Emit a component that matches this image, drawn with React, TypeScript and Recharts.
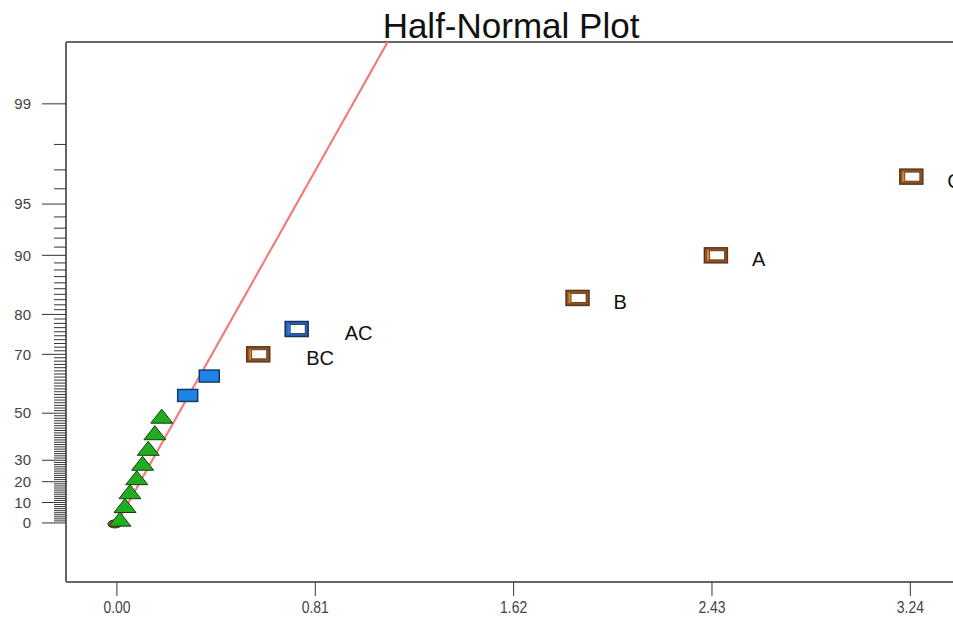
import React from 'react';
import { ScatterChart, Scatter, XAxis, YAxis, ReferenceLine } from 'recharts';

// half-normal % probability tick labels (major) and minor ticks every 1 %
const majorProbs = [0, 10, 20, 30, 50, 70, 80, 90, 95, 99];
const minorProbs = Array.from({ length: 100 }, (_, i) => i);
const xTicks = [0, 0.81, 1.62, 2.43, 3.24];

// error terms (triangles): |effect| and half-normal %
const errorValues = [0.012, 0.033, 0.053, 0.081, 0.105, 0.128, 0.155, 0.183];
const errorProbs = [3.33, 10, 16.67, 23.33, 30, 36.67, 43.33, 50];

// unlabeled negative terms (filled blue)
const smallValues = [0.289, 0.377];
const smallProbs = [56.67, 63.33];

// chosen model terms
const termLabels = ['BC', 'AC', 'B', 'A', 'C'];
const termValues = [0.577, 0.734, 1.881, 2.446, 3.244];
const termProbs = [70, 76.67, 83.33, 90, 96.67];
const termSigns = [1, -1, 1, 1, 1];

// origin marker and fitted line
const originValues = [0];
const originProbs = [0];
const fitLine = [
  { x: 0, p: 0 },
  { x: 1.11, p: 99.7 },
];

// inverse normal CDF (Acklam)
function probit(p: number): number {
  const a = [-39.69683028665376, 220.9460984245205, -275.9285104469687, 138.357751867269, -30.66479806614716, 2.506628277459239];
  const b = [-54.47609879822406, 161.5858368580409, -155.6989798598866, 66.80131188771972, -13.28068155288572];
  const c = [-0.007784894002430293, -0.3223964580411365, -2.400758277161838, -2.549732539343734, 4.374664141464968, 2.938163982698783];
  const d = [0.007784695709041462, 0.3224671290700398, 2.445134137142996, 3.754408661907416];
  const plow = 0.02425;
  if (p < plow) {
    const q = Math.sqrt(-2 * Math.log(p));
    return (((((c[0] * q + c[1]) * q + c[2]) * q + c[3]) * q + c[4]) * q + c[5]) / ((((d[0] * q + d[1]) * q + d[2]) * q + d[3]) * q + 1);
  }
  if (p <= 1 - plow) {
    const q = p - 0.5;
    const r = q * q;
    return ((((((a[0] * r + a[1]) * r + a[2]) * r + a[3]) * r + a[4]) * r + a[5]) * q) / (((((b[0] * r + b[1]) * r + b[2]) * r + b[3]) * r + b[4]) * r + 1);
  }
  const q = Math.sqrt(-2 * Math.log(1 - p));
  return -(((((c[0] * q + c[1]) * q + c[2]) * q + c[3]) * q + c[4]) * q + c[5]) / ((((d[0] * q + d[1]) * q + d[2]) * q + d[3]) * q + 1);
}
const hz = (pct: number) => (pct <= 0 ? 0 : probit(0.5 + pct / 200));

const AXIS_X = 66;
const Y_MIN = -0.363;
const Y_MAX = 2.956;
const FONT = 'Arial, "Liberation Sans", sans-serif';

const errorData = errorValues.map((x, i) => ({ x, y: hz(errorProbs[i]) }));
const smallData = smallValues.map((x, i) => ({ x, y: hz(smallProbs[i]) }));
const termData = termLabels.map((label, i) => ({ x: termValues[i], y: hz(termProbs[i]), label, sign: termSigns[i] }));
const originData = originValues.map((x, i) => ({ x, y: hz(originProbs[i]) }));

const tickZ = minorProbs.map(hz);
const labelByZ = new Map<string, number>(majorProbs.map((p) => [hz(p).toFixed(6), p]));

const YTick = (props: any) => {
  const { y, payload } = props;
  const p = labelByZ.get(Number(payload.value).toFixed(6));
  const major = p !== undefined;
  return (
    <g>
      <line x1={major ? AXIS_X - 24 : AXIS_X - 12} x2={AXIS_X} y1={y} y2={y} stroke="#333" strokeWidth={1} />
      {major && (
        <text x={31} y={y} dy="0.35em" textAnchor="end" fontSize={15} fill="#444" fontFamily={FONT}>
          {p}
        </text>
      )}
    </g>
  );
};

const XTick = (props: any) => {
  const { x, y, payload } = props;
  return (
    <text
      transform={`translate(${x},${y + 17}) scale(0.82,1)`}
      textAnchor="middle"
      fontSize={17}
      fill="#444"
      fontFamily={FONT}
    >
      {Number(payload.value).toFixed(2)}
    </text>
  );
};

const Triangle = (props: any) => {
  const { cx, cy } = props;
  return (
    <path
      d={`M${cx},${cy - 4} L${cx + 11},${cy + 10} L${cx - 11},${cy + 10} Z`}
      fill="#1fae1f"
      stroke="#1d3a12"
      strokeWidth={1}
    />
  );
};

const SmallRect = (props: any) => {
  const { cx, cy } = props;
  return <rect x={cx - 10} y={cy - 6} width={20} height={12} fill="#1e84e6" stroke="#163a6a" strokeWidth={1.5} />;
};

const labelDx: Record<string, number> = { BC: 48, AC: 48 };

const TermRect = (props: any) => {
  const { cx, cy, payload } = props;
  const pos = payload.sign > 0;
  const outer = pos ? '#5e3616' : '#16325e';
  const mid = pos ? '#8a5328' : '#2a63b0';
  const accent = pos ? '#e0862a' : '#2f7fdc';
  return (
    <g>
      <rect x={cx - 11.5} y={cy - 7.5} width={23} height={15} fill={mid} stroke={outer} strokeWidth={1.5} />
      <rect x={cx - 9} y={cy - 5} width={2.5} height={10} fill={accent} />
      <rect x={cx - 6.5} y={cy - 4.5} width={15} height={9} fill="#fff" stroke={outer} strokeWidth={0.8} />
      <text x={cx + (labelDx[payload.label] ?? 36)} y={cy + 4} dy="0.35em" fontSize={20} fill="#111" fontFamily={FONT}>
        {payload.label}
      </text>
    </g>
  );
};

const OriginDot = (props: any) => {
  const { cx, cy } = props;
  return <ellipse cx={cx - 2} cy={cy + 1} rx={7} ry={4} fill="#a0553a" stroke="#3d2014" strokeWidth={1} />;
};

export default function App() {
  return (
    <div style={{ position: 'absolute', left: 0, top: 0, width: 953, height: 623, overflow: 'hidden', background: '#fff' }}>
      <div
        style={{
          position: 'absolute',
          left: 511,
          top: 8,
          transform: 'translateX(-50%)',
          fontFamily: FONT,
          fontSize: 35,
          lineHeight: 1,
          color: '#111',
          whiteSpace: 'nowrap',
        }}
      >
        Half-Normal Plot
      </div>
      <ScatterChart width={1000} height={623} margin={{ top: 42, right: 26, bottom: 0, left: 0 }}>
        <XAxis
          type="number"
          dataKey="x"
          domain={[-0.208, 3.5]}
          allowDataOverflow
          ticks={xTicks}
          interval={0}
          height={41}
          tickSize={14}
          tickMargin={0}
          axisLine={{ stroke: '#666', strokeWidth: 2 }}
          tickLine={{ stroke: '#333' }}
          tick={<XTick />}
        />
        <YAxis
          type="number"
          dataKey="y"
          domain={[Y_MIN, Y_MAX]}
          allowDataOverflow
          ticks={tickZ}
          interval={0}
          width={AXIS_X}
          tickLine={false}
          axisLine={{ stroke: '#666', strokeWidth: 2 }}
          tick={<YTick />}
        />
        <ReferenceLine y={Y_MAX} stroke="#666" strokeWidth={2} ifOverflow="visible" />
        <ReferenceLine
          segment={fitLine.map((d) => ({ x: d.x, y: hz(d.p) }))}
          stroke="#f27d7d"
          strokeWidth={2.2}
          ifOverflow="hidden"
        />
        <Scatter data={originData} shape={<OriginDot />} isAnimationActive={false} />
        <Scatter data={errorData} shape={<Triangle />} isAnimationActive={false} />
        <Scatter data={smallData} shape={<SmallRect />} isAnimationActive={false} />
        <Scatter data={termData} shape={<TermRect />} isAnimationActive={false} />
      </ScatterChart>
    </div>
  );
}
